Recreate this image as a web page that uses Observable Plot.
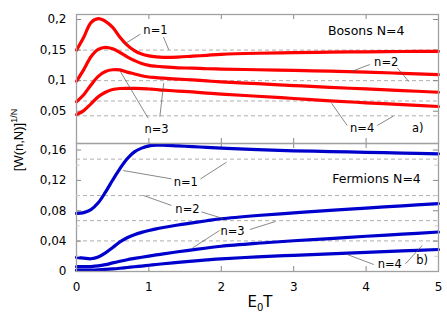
<!DOCTYPE html>
<html><head><meta charset="utf-8">
<script src="https://cdn.jsdelivr.net/npm/d3@7"></script>
<script src="https://cdn.jsdelivr.net/npm/@observablehq/plot@0.6"></script>
<style>
body{margin:0;background:#fff;}
#wrap{position:relative;width:447px;height:316px;overflow:hidden;}
#wrap svg{position:absolute;left:0;}
#ylab{position:absolute;left:18px;top:140px;transform:translate(-50%,-50%) rotate(-90deg);white-space:nowrap;font:13px "Liberation Sans",Arial,sans-serif;color:#000;}
#ylab sup{font-size:9px;vertical-align:6px;line-height:0;}
#xlab{position:absolute;left:260px;top:302px;transform:translate(-50%,-50%);white-space:nowrap;font:15px "DejaVu Sans",sans-serif;color:#000;}
#xlab sub{font-size:10px;vertical-align:-4px;line-height:0;}
</style></head><body><div id="wrap"><div id="ylab">[W(n,N)]<sup>1/N</sup></div><div id="xlab">E<sub>0</sub>T</div></div>
<script>
const xs = [0,0.1,0.2,0.3,0.4,0.5,0.6,0.7,0.8,0.9,1.0,1.1,1.2,1.4,1.6,1.8,2.0,2.5,3,3.5,4,4.5,5];
const seriesNames = ["n=1","n=2","n=3","n=4"];
// Bosons N=4
const bosonN1 = [0.150,0.171,0.195,0.2015,0.197,0.187,0.171,0.158,0.149,0.1435,0.1405,0.1388,0.138,0.1385,0.1400,0.1415,0.1430,0.1448,0.1458,0.1466,0.1472,0.1477,0.148];
const bosonN2 = [0.099,0.118,0.139,0.151,0.1545,0.152,0.146,0.139,0.133,0.128,0.125,0.1235,0.1225,0.121,0.1205,0.1195,0.119,0.1178,0.1168,0.1155,0.114,0.112,0.110];
const bosonN3 = [0.0655,0.077,0.093,0.107,0.115,0.1178,0.1175,0.114,0.111,0.108,0.106,0.105,0.104,0.1025,0.1012,0.0995,0.098,0.095,0.092,0.089,0.0865,0.0838,0.081];
const bosonN4 = [0.0445,0.051,0.062,0.0735,0.081,0.0855,0.0872,0.0875,0.0873,0.087,0.0863,0.0855,0.0845,0.083,0.0815,0.0797,0.078,0.0745,0.0708,0.067,0.0638,0.0607,0.0577];
// Fermions N=4
const fermionN1 = [0.0765,0.0775,0.0815,0.0905,0.1045,0.1205,0.1355,0.1485,0.1575,0.1625,0.1655,0.1665,0.1665,0.1655,0.1645,0.1635,0.1625,0.1605,0.159,0.158,0.157,0.156,0.155];
const fermionN2 = [0.0185,0.0175,0.0168,0.019,0.0245,0.0315,0.039,0.0445,0.0485,0.0515,0.054,0.0562,0.058,0.0612,0.064,0.0668,0.0695,0.0738,0.0772,0.0805,0.0835,0.0865,0.0895];
const fermionN3 = [0.0065,0.0063,0.0065,0.0073,0.009,0.0113,0.0135,0.0155,0.0172,0.0188,0.0203,0.0218,0.0232,0.026,0.0285,0.031,0.0333,0.0372,0.0405,0.0434,0.0464,0.0492,0.052];
const fermionN4 = [0.0018,0.0018,0.0019,0.0022,0.0027,0.0034,0.0043,0.0053,0.0063,0.0072,0.0082,0.0092,0.0102,0.0121,0.0137,0.0152,0.0166,0.0193,0.0213,0.0232,0.0252,0.0271,0.029];

const xTicks = [0,1,2,3,4,5];
const bosonTicks = [0.05,0.1,0.15,0.2];
const fermionTicks = [0,0.04,0.08,0.12,0.16];
const fermionMinorTicks = [0.02,0.06,0.1,0.14];
const bosonLimits = [0.15,0.1,0.0667,0.0425];
const fermionLimits = [0.148,0.1,0.067,0.0403];
const bosonTitle = "Bosons N=4";
const fermionTitle = "Fermions N=4";

const bosonLabels = [
  {text:"n=1", x:1.091, y:0.182},
  {text:"n=2", x:4.278, y:0.1301},
  {text:"n=3", x:1.105, y:0.0212},
  {text:"n=4", x:3.946, y:0.0222},
  {text:bosonTitle, x:4.001, y:0.1804, big:true},
  {text:"a)", x:4.714, y:0.0222}
];
const bosonLeaders = [
  {x1:0.88, y1:0.1760, x2:0.665, y2:0.1600},
  {x1:1.20, y1:0.1715, x2:1.275, y2:0.1504},
  {x1:0.99, y1:0.0385, x2:0.598, y2:0.1166},
  {x1:1.151, y1:0.0410, x2:1.205, y2:0.0960},
  {x1:4.051, y1:0.1264, x2:3.808, y2:0.1154},
  {x1:4.430, y1:0.1210, x2:4.590, y2:0.0986},
  {x1:3.739, y1:0.0266, x2:3.522, y2:0.0631},
  {x1:4.153, y1:0.0266, x2:4.374, y2:0.0418}
];
const fermionLabels = [
  {text:"n=1", x:1.510, y:0.1177},
  {text:"n=2", x:1.533, y:0.0818},
  {text:"n=3", x:2.155, y:0.0527},
  {text:"n=4", x:4.327, y:0.0092},
  {text:fermionTitle, x:4.144, y:0.1212, big:true},
  {text:"b)", x:4.775, y:0.0145}
];
const fermionLeaders = [
  {x1:1.312, y1:0.1220, x2:0.646, y2:0.1330},
  {x1:1.713, y1:0.1220, x2:2.072, y2:0.1440},
  {x1:1.312, y1:0.0870, x2:0.921, y2:0.1002},
  {x1:1.727, y1:0.0785, x2:2.026, y2:0.0697},
  {x1:1.975, y1:0.0540, x2:1.602, y2:0.0310},
  {x1:2.394, y1:0.0553, x2:2.749, y2:0.0659},
  {x1:4.106, y1:0.0092, x2:3.739, y2:0.0224},
  {x1:4.544, y1:0.0101, x2:4.775, y2:0.0343}
];

const fmt = d => String(d).replace(".", ",");
function rows(list){ return list.flatMap((arr,i)=> xs.map((x,j)=>({x, y:arr[j], n:seriesNames[i]}))); }

const bosonRows = rows([bosonN1,bosonN2,bosonN3,bosonN4]);
const fermionRows = rows([fermionN1,fermionN2,fermionN3,fermionN4]);

const frameColor = "#a0a0a0";
const font = "DejaVu Sans, sans-serif";

const topY = [-0.0028, 0.2082];
const botY = [0, 0.1686];

function panel({rows, color, yDomain, ticks, minor, limits, labels, leaders, height, marginTop, marginBottom, showX}){
  const [y0,y1] = yDomain;
  const span = y1 - y0;
  const plotH = height - marginTop - marginBottom;
  const t = 5/plotH*span;
  const marks = [
    Plot.ruleY(limits, {stroke:"#9a9a9a", strokeDasharray:"4,3", strokeWidth:0.8}),
    Plot.ruleY(ticks, {x1:0, x2:0.07, stroke:"#888", strokeWidth:1}),
    Plot.ruleY(ticks, {x1:4.93, x2:5, stroke:"#888", strokeWidth:1}),
    Plot.ruleX(xTicks, {y1:y1, y2:y1-t, stroke:"#888", strokeWidth:1}),
    Plot.ruleX(xTicks, {y1:y0, y2:y0+t, stroke:"#888", strokeWidth:1}),
    Plot.line(rows, {x:"x", y:"y", z:"n", stroke:color, strokeWidth:3.2, curve:"catmull-rom"}),
    Plot.link(leaders, {x1:"x1", y1:"y1", x2:"x2", y2:"y2", stroke:"#555", strokeWidth:0.7}),
    Plot.text(labels.filter(d=>!d.big), {x:"x", y:"y", text:"text", fontSize:11.5, fill:"#000"}),
    Plot.text(labels.filter(d=>d.big), {x:"x", y:"y", text:"text", fontSize:12.5, fill:"#000"}),
    Plot.axisY(ticks, {tickSize:0, tickPadding:10, tickFormat:fmt, fontSize:12, label:null, fill:"#000"}),
    Plot.frame({stroke:frameColor, strokeWidth:1.3})
  ];
  if (minor) {
    marks.push(Plot.ruleY(minor, {x1:0, x2:0.05, stroke:"#ccc", strokeWidth:1}));
    marks.push(Plot.ruleY(minor, {x1:4.95, x2:5, stroke:"#ccc", strokeWidth:1}));
  }
  if (showX) marks.push(Plot.axisX(xTicks, {tickSize:0, tickPadding:11, fontSize:12, label:null, fill:"#000"}));
  return Plot.plot({
    width:447, height, marginLeft:76, marginRight:9, marginTop, marginBottom,
    x:{domain:[0,5], axis:null},
    y:{domain:yDomain, axis:null},
    style:{fontFamily:font, fontSize:"12px", color:"#000", background:"transparent", overflow:"visible"},
    marks
  });
}

const wrapEl = document.getElementById("wrap");
const topPanel = panel({rows:bosonRows, color:"#ff0000", yDomain:topY, ticks:bosonTicks, limits:bosonLimits,
  labels:bosonLabels, leaders:bosonLeaders, height:144, marginTop:14, marginBottom:1, showX:false});
topPanel.style.top = "0px";
const bottomPanel = panel({rows:fermionRows, color:"#0000cc", yDomain:botY, ticks:fermionTicks, minor:fermionMinorTicks, limits:fermionLimits,
  labels:fermionLabels, leaders:fermionLeaders, height:174, marginTop:1, marginBottom:45, showX:true});
bottomPanel.style.top = "142px";
wrapEl.appendChild(topPanel);
wrapEl.appendChild(bottomPanel);
</script></body></html>
